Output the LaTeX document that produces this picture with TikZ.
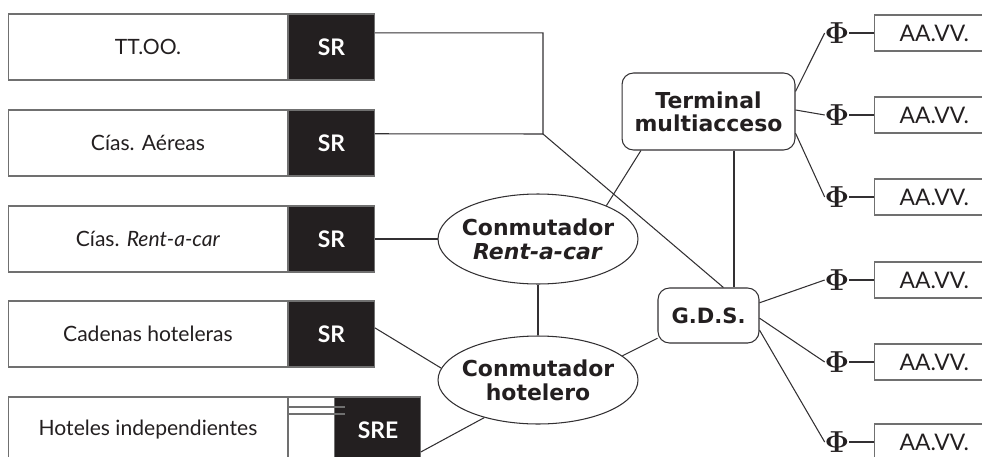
\documentclass[tikz,border=0pt]{standalone}
\usepackage[no-math]{fontspec}
\setmainfont{Lato}
\newfontfamily\helv{DejaVu Sans}
\usetikzlibrary{shapes.geometric, positioning}
\definecolor{srblack}{RGB}{35,31,32}
\definecolor{edgegrey}{RGB}{112,112,112}
\definecolor{inkgrey}{RGB}{50,48,50}
\tikzset{
  labelbox/.style={rectangle, draw=edgegrey, line width=0.6pt, minimum width=5.6cm,
                   minimum height=1.32cm, inner sep=0pt, outer sep=0pt,
                   text=srblack, font=\fontsize{12}{14}\selectfont},
  srbox/.style={rectangle, draw=edgegrey, fill=srblack, line width=0.6pt,
                minimum width=1.74cm, minimum height=1.32cm, inner sep=0pt,
                outer sep=0pt, text=white, font=\fontsize{13}{15}\selectfont\bfseries},
  swnode/.style={ellipse, draw=inkgrey, line width=0.6pt, minimum width=4cm,
                 minimum height=1.8cm, inner xsep=-4.5pt, inner ysep=0pt, align=center,
                 text=srblack, font=\helv\fontsize{12.5}{13.6}\selectfont\bfseries},
  hubbox/.style={rectangle, rounded corners=6.5pt, draw=inkgrey, line width=0.6pt,
                 inner sep=0pt, align=center, text=srblack,
                 font=\helv\fontsize{12.5}{13}\selectfont\bfseries},
  avbox/.style={rectangle, draw=edgegrey, line width=0.6pt, minimum width=2.4cm,
                minimum height=0.72cm, inner sep=0pt, outer sep=0pt,
                text=srblack, font=\fontsize{13}{15}\selectfont},
  phinode/.style={inner sep=0pt, outer sep=0pt, text=srblack,
                  font=\fontsize{16.5}{17}\selectfont},
  link/.style={draw=inkgrey, line width=0.6pt},
}

\begin{document}
\begin{tikzpicture}[x=0.02cm, y=-0.02cm]
  \useasboundingbox (0,0) rectangle (982,456);

  % providers on the left
  \node[labelbox] (tto) at (148,47) {TT.OO.};
  \node[srbox, right=0pt of tto] (tto sr) {SR};
  \node[labelbox] (aer) at (148,143) {Cías. Aéreas};
  \node[srbox, right=0pt of aer] (aer sr) {SR};
  \node[labelbox] (rent) at (148,239) {Cías. \textit{Rent-a-car}};
  \node[srbox, right=0pt of rent] (rent sr) {SR};
  \node[labelbox] (cad) at (148,334) {Cadenas hoteleras};
  \node[srbox, right=0pt of cad] (cad sr) {SR};
  \node[labelbox] (ind) at (148,430) {Hoteles independientes};
  \node[labelbox, minimum width=0.94cm, right=0pt of ind] (ind gap) {};
  \node[srbox, minimum width=1.72cm, right=0pt of ind gap] (sre) {SRE};
  \draw[draw=edgegrey, line width=0.6pt]
    ([yshift=-0.2cm]ind gap.north west) -- ([xshift=0.2cm,yshift=-0.2cm]sre.north west)
    ([yshift=-0.34cm]ind gap.north west) -- ([xshift=0.2cm,yshift=-0.34cm]sre.north west);

  % switches and hubs
  \node[swnode] (rac) at (538,239) {Conmutador\\\textit{Rent-a-car}};
  \node[swnode, minimum height=1.76cm] (hot) at (538,380) {Conmutador\\hotelero};
  \node[hubbox, minimum width=3.46cm, minimum height=1.54cm] (term) at (708.5,111.5)
    {Terminal\\multiacceso};
  \node[hubbox, minimum width=2.02cm, minimum height=1.1cm,
        font=\helv\fontsize{12}{13}\selectfont\bfseries] (gds) at (708.5,315.5) {G.D.S.};
  \coordinate (junc) at (543,134);

  % travel agencies
  \node[phinode] (phi1) at (837,33) {$\mathbf{\Phi}$};
  \node[phinode] (phi2) at (837,115) {$\mathbf{\Phi}$};
  \node[phinode] (phi3) at (837,197) {$\mathbf{\Phi}$};
  \node[phinode] (phi4) at (837,280) {$\mathbf{\Phi}$};
  \node[phinode] (phi5) at (837,362) {$\mathbf{\Phi}$};
  \node[phinode] (phi6) at (837,442) {$\mathbf{\Phi}$};
  \node[avbox, right=0.5cm of phi1] (av1) {AA.VV.};
  \node[avbox, right=0.5cm of phi2] (av2) {AA.VV.};
  \node[avbox, right=0.5cm of phi3] (av3) {AA.VV.};
  \node[avbox, right=0.5cm of phi4] (av4) {AA.VV.};
  \node[avbox, right=0.5cm of phi5] (av5) {AA.VV.};
  \node[avbox, right=0.5cm of phi6] (av6) {AA.VV.};

  % connections
  \draw[link] (tto sr.18) -| (junc) -- (gds.62);
  \draw[link] (aer sr.12) -- (junc);
  \draw[link] (rent sr.east) -- (rac.west);
  \draw[link] (cad sr.8) -- (hot.173);
  \draw[link] (sre.-27) -- (hot.215);
  \draw[link] (rac.south) -- (hot.north);
  \draw[link] (term.210) -- (rac.26);
  \draw[link] ([xshift=0.51cm]term.south) -- ([xshift=0.51cm]gds.north);
  \draw[link] (gds.204) -- (hot.16);
  \draw[link] (term.13) -- (phi1.west);
  \draw[link] (term.1) -- (phi2.west);
  \draw[link] (term.-14) -- (phi3.west);
  \draw[link] (gds.14) -- (phi4.west);
  \draw[link] (gds.-3) -- (phi5.west);
  \draw[link] (gds.-16) -- (phi6.west);
  \draw[link] (phi1.east) -- (av1.west);
  \draw[link] (phi2.east) -- (av2.west);
  \draw[link] (phi3.east) -- (av3.west);
  \draw[link] (phi4.east) -- (av4.west);
  \draw[link] (phi5.east) -- (av5.west);
  \draw[link] (phi6.east) -- (av6.west);
\end{tikzpicture}
\end{document}
